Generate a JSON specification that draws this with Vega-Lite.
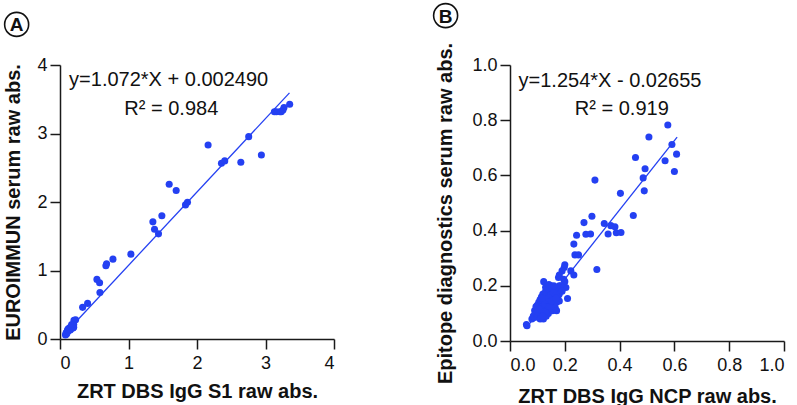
{
  "$schema": "https://vega.github.io/schema/vega-lite/v6.json",
  "padding": {"left": 1, "top": 0, "right": 1, "bottom": 1},
  "background": "white",
  "config": {
    "view": {"stroke": null},
    "concat": {"spacing": 95},
    "axis": {
      "grid": false,
      "domainColor": "#1a1a1a",
      "domainWidth": 1.5,
      "tickColor": "#1a1a1a",
      "tickWidth": 1.5,
      "tickSize": 10,
      "labelFont": "Liberation Sans",
      "labelFontSize": 18,
      "labelColor": "#111",
      "labelPadding": 3,
      "titleFont": "Liberation Sans",
      "titleFontSize": 20,
      "titleFontWeight": "bold",
      "titleColor": "#111"
    },
    "axisX": {"labelPadding": 5},
    "text": {"font": "Liberation Sans"}
  },
  "datasets": {
    "a": [
      {"x": 3.353, "y": 3.426}, {"x": 3.27, "y": 3.38}, {"x": 3.255, "y": 3.343},
      {"x": 3.23, "y": 3.318}, {"x": 3.21, "y": 3.318}, {"x": 3.16, "y": 3.318}, {"x": 3.13, "y": 3.318},
      {"x": 2.755, "y": 2.954}, {"x": 2.162, "y": 2.833}, {"x": 2.94, "y": 2.687},
      {"x": 2.64, "y": 2.58}, {"x": 2.357, "y": 2.566}, {"x": 2.405, "y": 2.6},
      {"x": 1.594, "y": 2.26}, {"x": 1.696, "y": 2.167}, {"x": 1.861, "y": 1.997},
      {"x": 1.832, "y": 1.958}, {"x": 1.487, "y": 1.798}, {"x": 1.356, "y": 1.71},
      {"x": 1.38, "y": 1.603}, {"x": 1.438, "y": 1.535}, {"x": 1.035, "y": 1.239},
      {"x": 0.773, "y": 1.166}, {"x": 0.68, "y": 1.098}, {"x": 0.67, "y": 1.069},
      {"x": 0.539, "y": 0.87}, {"x": 0.578, "y": 0.821}, {"x": 0.583, "y": 0.68},
      {"x": 0.403, "y": 0.52}, {"x": 0.33, "y": 0.462},
      {"x": 0.228, "y": 0.282}, {"x": 0.204, "y": 0.272},
      {"x": 0.08, "y": 0.06}, {"x": 0.09, "y": 0.07}, {"x": 0.09, "y": 0.09},
      {"x": 0.1, "y": 0.08}, {"x": 0.1, "y": 0.1}, {"x": 0.11, "y": 0.11},
      {"x": 0.11, "y": 0.13}, {"x": 0.12, "y": 0.12}, {"x": 0.12, "y": 0.15},
      {"x": 0.13, "y": 0.14}, {"x": 0.14, "y": 0.16}, {"x": 0.15, "y": 0.17},
      {"x": 0.16, "y": 0.15}, {"x": 0.17, "y": 0.19}, {"x": 0.18, "y": 0.18},
      {"x": 0.19, "y": 0.2}, {"x": 0.2, "y": 0.21}, {"x": 0.2, "y": 0.17},
      {"x": 0.19, "y": 0.16}, {"x": 0.15, "y": 0.13}, {"x": 0.17, "y": 0.21}
    ],
    "aline": [{"x": 0.08, "y": 0.0882}, {"x": 3.35, "y": 3.5937}],
    "alab": [
      {"x": 1.586, "y": 3.78, "t": "y=1.072*X + 0.002490"},
      {"x": 1.625, "y": 3.36, "t": "R² = 0.984"}
    ],
    "atag": [{"x": -0.633, "y": 4.593, "t": "A"}],
    "b": [
      {"x": 0.576, "y": 0.7825}, {"x": 0.507, "y": 0.739}, {"x": 0.591, "y": 0.712},
      {"x": 0.608, "y": 0.677}, {"x": 0.566, "y": 0.653}, {"x": 0.458, "y": 0.665},
      {"x": 0.6, "y": 0.614}, {"x": 0.493, "y": 0.624}, {"x": 0.486, "y": 0.591},
      {"x": 0.49, "y": 0.544}, {"x": 0.403, "y": 0.535}, {"x": 0.31, "y": 0.583},
      {"x": 0.45, "y": 0.455}, {"x": 0.299, "y": 0.452}, {"x": 0.27, "y": 0.429},
      {"x": 0.344, "y": 0.426}, {"x": 0.368, "y": 0.418}, {"x": 0.383, "y": 0.414},
      {"x": 0.388, "y": 0.392}, {"x": 0.405, "y": 0.393}, {"x": 0.358, "y": 0.388},
      {"x": 0.277, "y": 0.387}, {"x": 0.294, "y": 0.388}, {"x": 0.243, "y": 0.383},
      {"x": 0.233, "y": 0.351}, {"x": 0.237, "y": 0.312}, {"x": 0.25, "y": 0.312},
      {"x": 0.317, "y": 0.259}, {"x": 0.2, "y": 0.276}, {"x": 0.198, "y": 0.266},
      {"x": 0.19, "y": 0.254}, {"x": 0.222, "y": 0.254}, {"x": 0.233, "y": 0.239},
      {"x": 0.18, "y": 0.239}, {"x": 0.177, "y": 0.23}, {"x": 0.196, "y": 0.224},
      {"x": 0.2, "y": 0.215}, {"x": 0.204, "y": 0.194}, {"x": 0.21, "y": 0.154},
      {"x": 0.18, "y": 0.2}, {"x": 0.123, "y": 0.215},
      {"x": 0.06, "y": 0.06}, {"x": 0.062, "y": 0.055}, {"x": 0.08, "y": 0.08},
      {"x": 0.085, "y": 0.09}, {"x": 0.09, "y": 0.11}, {"x": 0.09, "y": 0.085},
      {"x": 0.095, "y": 0.1}, {"x": 0.1, "y": 0.12}, {"x": 0.1, "y": 0.095},
      {"x": 0.1, "y": 0.13}, {"x": 0.105, "y": 0.11}, {"x": 0.105, "y": 0.14},
      {"x": 0.11, "y": 0.1}, {"x": 0.11, "y": 0.12}, {"x": 0.11, "y": 0.15},
      {"x": 0.112, "y": 0.13}, {"x": 0.115, "y": 0.09}, {"x": 0.115, "y": 0.16},
      {"x": 0.12, "y": 0.11}, {"x": 0.12, "y": 0.13}, {"x": 0.12, "y": 0.14},
      {"x": 0.12, "y": 0.17}, {"x": 0.122, "y": 0.08}, {"x": 0.125, "y": 0.1},
      {"x": 0.125, "y": 0.15}, {"x": 0.13, "y": 0.12}, {"x": 0.13, "y": 0.14},
      {"x": 0.13, "y": 0.16}, {"x": 0.13, "y": 0.18}, {"x": 0.132, "y": 0.09},
      {"x": 0.135, "y": 0.11}, {"x": 0.135, "y": 0.13}, {"x": 0.135, "y": 0.15},
      {"x": 0.135, "y": 0.17}, {"x": 0.14, "y": 0.1}, {"x": 0.14, "y": 0.12},
      {"x": 0.14, "y": 0.14}, {"x": 0.14, "y": 0.16}, {"x": 0.14, "y": 0.19},
      {"x": 0.145, "y": 0.13}, {"x": 0.145, "y": 0.15}, {"x": 0.145, "y": 0.18},
      {"x": 0.15, "y": 0.12}, {"x": 0.15, "y": 0.14}, {"x": 0.15, "y": 0.17},
      {"x": 0.15, "y": 0.2}, {"x": 0.155, "y": 0.11}, {"x": 0.155, "y": 0.16},
      {"x": 0.155, "y": 0.19}, {"x": 0.16, "y": 0.13}, {"x": 0.16, "y": 0.15},
      {"x": 0.16, "y": 0.18}, {"x": 0.165, "y": 0.12}, {"x": 0.165, "y": 0.17},
      {"x": 0.17, "y": 0.14}, {"x": 0.17, "y": 0.19}, {"x": 0.17, "y": 0.11},
      {"x": 0.175, "y": 0.16}, {"x": 0.18, "y": 0.145}, {"x": 0.18, "y": 0.17},
      {"x": 0.185, "y": 0.2}, {"x": 0.19, "y": 0.18}, {"x": 0.11, "y": 0.08},
      {"x": 0.118, "y": 0.125}, {"x": 0.128, "y": 0.105}, {"x": 0.138, "y": 0.155},
      {"x": 0.148, "y": 0.165}, {"x": 0.158, "y": 0.175}, {"x": 0.1, "y": 0.105},
      {"x": 0.095, "y": 0.125}, {"x": 0.13, "y": 0.195}, {"x": 0.142, "y": 0.205},
      {"x": 0.16, "y": 0.2}, {"x": 0.108, "y": 0.115}, {"x": 0.126, "y": 0.135},
      {"x": 0.144, "y": 0.125}, {"x": 0.152, "y": 0.145}, {"x": 0.168, "y": 0.155},
      {"x": 0.118, "y": 0.155}, {"x": 0.12, "y": 0.09}
    ],
    "bline": [{"x": 0.06, "y": 0.0487}, {"x": 0.61, "y": 0.7384}],
    "blab": [
      {"x": 0.365, "y": 0.943, "t": "y=1.254*X - 0.02655"},
      {"x": 0.408, "y": 0.84, "t": "R² = 0.919"}
    ],
    "btag": [{"x": -0.235, "y": 1.179, "t": "B"}]
  },
  "hconcat": [
    {
      "width": 274,
      "height": 274,
      "layer": [
        {
          "data": {"name": "a"},
          "mark": {"type": "circle", "size": 50, "color": "#2440f2", "opacity": 1},
          "encoding": {
            "x": {"field": "x", "type": "quantitative", "scale": {"domain": [0, 4]},
                  "axis": {"values": [0, 1, 2, 3, 4], "format": "d", "title": "ZRT DBS IgG S1 raw abs.", "titlePadding": 9}},
            "y": {"field": "y", "type": "quantitative", "scale": {"domain": [0, 4]},
                  "axis": {"values": [0, 1, 2, 3, 4], "format": "d", "title": "EUROIMMUN serum raw abs.", "titlePadding": 13}}
          }
        },
        {
          "data": {"name": "aline"},
          "mark": {"type": "line", "color": "#2440f2", "strokeWidth": 1.3},
          "encoding": {"x": {"field": "x", "type": "quantitative"}, "y": {"field": "y", "type": "quantitative"}}
        },
        {
          "data": {"name": "alab"},
          "mark": {"type": "text", "fontSize": 20, "baseline": "middle", "align": "center", "color": "#111"},
          "encoding": {"x": {"field": "x", "type": "quantitative"}, "y": {"field": "y", "type": "quantitative"},
                       "text": {"field": "t"}}
        },
        {
          "data": {"name": "atag"},
          "mark": {"type": "point", "shape": "circle", "size": 576, "filled": false, "stroke": "#111", "strokeWidth": 1.6, "opacity": 1},
          "encoding": {"x": {"field": "x", "type": "quantitative"}, "y": {"field": "y", "type": "quantitative"}}
        },
        {
          "data": {"name": "atag"},
          "mark": {"type": "text", "fontSize": 19, "fontWeight": "bold", "baseline": "middle", "align": "center", "color": "#111", "dy": 1},
          "encoding": {"x": {"field": "x", "type": "quantitative"}, "y": {"field": "y", "type": "quantitative"}, "text": {"field": "t"}}
        }
      ]
    },
    {
      "width": 274,
      "height": 276,
      "layer": [
        {
          "data": {"name": "b"},
          "mark": {"type": "circle", "size": 50, "color": "#2440f2", "opacity": 1},
          "encoding": {
            "x": {"field": "x", "type": "quantitative", "scale": {"domain": [0, 1]},
                  "axis": {"values": [0, 0.2, 0.4, 0.6, 0.8, 1.0], "format": ".1f", "title": "ZRT DBS IgG NCP raw abs.", "titlePadding": 12}},
            "y": {"field": "y", "type": "quantitative", "scale": {"domain": [0, 1]},
                  "axis": {"values": [0, 0.2, 0.4, 0.6, 0.8, 1.0], "format": ".1f", "title": "Epitope diagnostics serum raw abs.", "titlePadding": 16, "titleY": 148}}
          }
        },
        {
          "data": {"name": "bline"},
          "mark": {"type": "line", "color": "#2440f2", "strokeWidth": 1.3},
          "encoding": {"x": {"field": "x", "type": "quantitative"}, "y": {"field": "y", "type": "quantitative"}}
        },
        {
          "data": {"name": "blab"},
          "mark": {"type": "text", "fontSize": 20, "baseline": "middle", "align": "center", "color": "#111"},
          "encoding": {"x": {"field": "x", "type": "quantitative"}, "y": {"field": "y", "type": "quantitative"},
                       "text": {"field": "t"}}
        },
        {
          "data": {"name": "btag"},
          "mark": {"type": "point", "shape": "circle", "size": 576, "filled": false, "stroke": "#111", "strokeWidth": 1.6, "opacity": 1},
          "encoding": {"x": {"field": "x", "type": "quantitative"}, "y": {"field": "y", "type": "quantitative"}}
        },
        {
          "data": {"name": "btag"},
          "mark": {"type": "text", "fontSize": 19, "fontWeight": "bold", "baseline": "middle", "align": "center", "color": "#111", "dy": 1},
          "encoding": {"x": {"field": "x", "type": "quantitative"}, "y": {"field": "y", "type": "quantitative"}, "text": {"field": "t"}}
        }
      ]
    }
  ]
}
